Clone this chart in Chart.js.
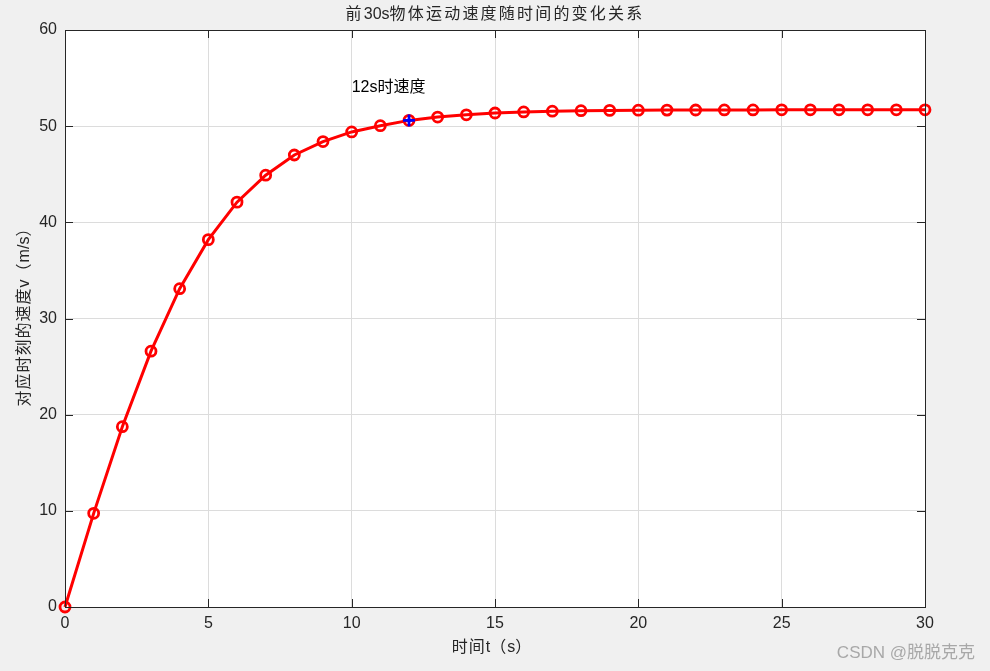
<!DOCTYPE html>
<html>
<head>
<meta charset="utf-8">
<script src="https://cdn.jsdelivr.net/npm/chart.js@4"></script>
<style>
  html, body { margin: 0; padding: 0; background: #f0f0f0; }
  #wrap { width: 990px; height: 671px; }
</style>
</head>
<body>
<div id="wrap"><canvas id="chart" width="990" height="671"></canvas></div>
<script>
// time (s) and speed (m/s)
const times = [0, 1, 2, 3, 4, 5, 6, 7, 8, 9, 10, 11, 12, 13, 14, 15, 16, 17, 18, 19, 20, 21, 22, 23, 24, 25, 26, 27, 28, 29, 30];
const speeds = [0, 9.74, 18.75, 26.6, 33.1, 38.2, 42.1, 44.9, 47.0, 48.4, 49.4, 50.05, 50.6, 50.95, 51.18, 51.37, 51.48, 51.56, 51.61, 51.64, 51.66, 51.67, 51.68, 51.69, 51.69, 51.7, 51.7, 51.7, 51.7, 51.7, 51.7];
const markT = 12;
const markV = 50.6;
const noteText = '12s时速度';
const noteAt = [10, 54];
const xTicks = [0, 5, 10, 15, 20, 25, 30];
const yTicks = [0, 10, 20, 30, 40, 50, 60];

const titleText = '前30s物体运动速度随时间的变化关系';
const xLabel = '时间t（s）';
const yLabel = '对应时刻的速度v（m/s）';
const watermark = 'CSDN @脱脱克克';

const FONT = '"Liberation Sans", Arial, "Noto Sans CJK SC", sans-serif';
const INK = '#262626';

// draw text centred at (x, y), spacing out only the CJK runs (matlab's chinese font is wider)
function mixedText(ctx, text, x, y, cjkGap) {
    const runs = text.match(/[\x00-\x7f]+|[^\x00-\x7f]+/g) || [];
    const widths = runs.map(r => {
        ctx.letterSpacing = /[\x00-\x7f]/.test(r[0]) ? '0px' : cjkGap + 'px';
        return ctx.measureText(r).width;
    });
    let cur = x - widths.reduce((s, w) => s + w, 0) / 2;
    ctx.textAlign = 'left';
    runs.forEach((r, i) => {
        ctx.letterSpacing = /[\x00-\x7f]/.test(r[0]) ? '0px' : cjkGap + 'px';
        ctx.fillText(r, cur, y);
        cur += widths[i];
    });
    ctx.letterSpacing = '0px';
}

// matlab style: box, inward ticks on all four sides, titles
const matlabAxes = {
    id: 'matlabAxes',
    beforeDraw(chart) {
        const { ctx, chartArea: a } = chart;
        ctx.save();
        ctx.fillStyle = '#ffffff';
        ctx.fillRect(a.left, a.top, a.right - a.left, a.bottom - a.top);
        ctx.restore();
    },
    afterDraw(chart) {
        const { ctx, chartArea: a, scales } = chart;
        ctx.save();
        ctx.strokeStyle = INK;
        ctx.lineWidth = 1;
        ctx.strokeRect(Math.round(a.left) + 0.5, Math.round(a.top) + 0.5, Math.round(a.right - a.left), Math.round(a.bottom - a.top));
        const len = 8;
        ctx.beginPath();
        xTicks.forEach(v => {
            const px = Math.round(scales.x.getPixelForValue(v)) + 0.5;
            ctx.moveTo(px, a.bottom); ctx.lineTo(px, a.bottom - len);
            ctx.moveTo(px, a.top); ctx.lineTo(px, a.top + len);
        });
        yTicks.forEach(v => {
            const py = Math.round(scales.y.getPixelForValue(v)) + 0.5;
            ctx.moveTo(a.left, py); ctx.lineTo(a.left + len, py);
            ctx.moveTo(a.right, py); ctx.lineTo(a.right - len, py);
        });
        ctx.stroke();

        // annotation near the 12s point
        ctx.fillStyle = '#000000';
        ctx.font = '16px ' + FONT;
        ctx.textAlign = 'left';
        ctx.textBaseline = 'middle';
        ctx.fillText(noteText, scales.x.getPixelForValue(noteAt[0]), scales.y.getPixelForValue(noteAt[1]));

        // title and axis labels
        ctx.fillStyle = INK;
        const cx = (a.left + a.right) / 2;
        ctx.font = '16px ' + FONT;
        mixedText(ctx, titleText, cx, 15, 2.2);
        mixedText(ctx, xLabel, cx - 3, 648, 1);
        ctx.save();
        ctx.translate(25, 313);
        ctx.rotate(-Math.PI / 2);
        mixedText(ctx, yLabel, 0, 0, 1);
        ctx.restore();

        // watermark
        ctx.fillStyle = '#a8a8a8';
        ctx.font = '17px ' + FONT;
        ctx.textAlign = 'right';
        ctx.fillText(watermark, 975, 653);
        ctx.restore();
    }
};

const ctx = document.getElementById('chart').getContext('2d');
new Chart(ctx, {
    type: 'line',
    data: {
        datasets: [
            {
                label: 'marker',
                data: [{ x: markT, y: markV }],
                showLine: false,
                pointStyle: 'cross',
                pointRadius: 6,
                pointBorderWidth: 2.8,
                pointBorderColor: '#0000ff',
                pointBackgroundColor: '#0000ff',
                order: 0
            },
            {
                label: 'v',
                data: times.map((t, i) => ({ x: t, y: speeds[i] })),
                borderColor: '#ff0000',
                borderWidth: 3,
                tension: 0,
                pointStyle: 'circle',
                pointRadius: 5,
                pointBorderWidth: 2.8,
                pointBorderColor: '#ff0000',
                pointBackgroundColor: 'rgba(0,0,0,0)',
                order: 1
            }
        ]
    },
    options: {
        responsive: false,
        animation: false,
        clip: false,
        layout: { padding: { left: 0, right: 65, top: 30, bottom: 0 } },
        plugins: { legend: { display: false }, tooltip: { enabled: false } },
        scales: {
            x: {
                type: 'linear',
                min: 0, max: 30,
                afterBuildTicks: s => { s.ticks = xTicks.map(v => ({ value: v })); },
                afterFit: s => { s.height = 64; },
                grid: { color: '#dcdcdc', drawTicks: false },
                border: { display: false },
                ticks: { color: INK, font: { size: 16, family: FONT }, padding: 7, maxRotation: 0 }
            },
            y: {
                min: 0, max: 60,
                afterBuildTicks: s => { s.ticks = yTicks.map(v => ({ value: v })); },
                afterFit: s => { s.width = 65; },
                grid: { color: '#dcdcdc', drawTicks: false },
                border: { display: false },
                ticks: { color: INK, font: { size: 16, family: FONT }, padding: 8 }
            }
        }
    },
    plugins: [matlabAxes]
});
</script>
</body>
</html>
